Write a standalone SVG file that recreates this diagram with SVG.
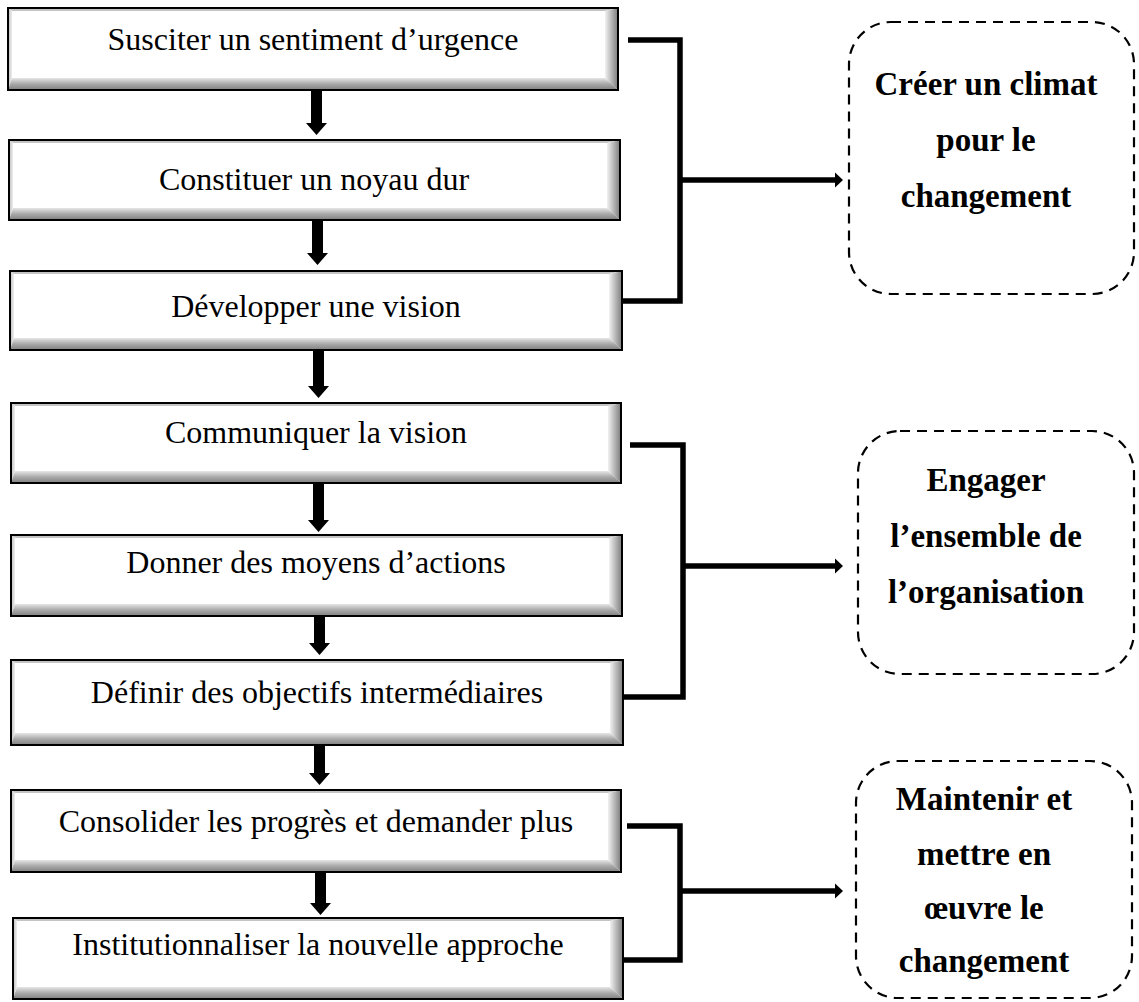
<svg xmlns="http://www.w3.org/2000/svg" width="1139" height="1002" viewBox="0 0 1139 1002">
  <defs>
    <linearGradient id="gR" x1="0" y1="0" x2="1" y2="0">
      <stop offset="0" stop-color="#f2f2f2"/>
      <stop offset="0.45" stop-color="#bdbdbd"/>
      <stop offset="1" stop-color="#7c7c7c"/>
    </linearGradient>
    <linearGradient id="gB" x1="0" y1="0" x2="0" y2="1">
      <stop offset="0" stop-color="#e6e6e6"/>
      <stop offset="0.5" stop-color="#a9a9a9"/>
      <stop offset="1" stop-color="#808080"/>
    </linearGradient>
    <linearGradient id="gL" x1="0" y1="0" x2="1" y2="0">
      <stop offset="0" stop-color="#bdbdbd"/>
      <stop offset="1" stop-color="#eeeeee"/>
    </linearGradient>
    <style>
      .face { fill: #ffffff; }
      .edge { fill: none; stroke: #000; stroke-width: 2; }
      .bt { fill: #c4c4c4; }
      .bl { fill: url(#gL); }
      .br { fill: url(#gR); }
      .bb { fill: url(#gB); }
      .lbl { font-family: "Liberation Serif", "Times New Roman", serif; font-size: 32px; text-anchor: middle; fill: #000; }
      .goal rect { fill: none; stroke: #000; stroke-width: 2.2; stroke-dasharray: 10 7; }
      .goal text { font-family: "Liberation Serif", "Times New Roman", serif; font-size: 33px; font-weight: bold; text-anchor: middle; fill: #000; }
      .link { fill: none; stroke: #000; stroke-width: 5.5; stroke-linejoin: miter; stroke-linecap: butt; }
      .head { fill: #000; }
    </style>
  </defs>

  <rect width="1139" height="1002" fill="#ffffff"/>

  <!-- steps: bevelled boxes -->
  <g id="step1">
    <rect class="face" x="8" y="8" width="610" height="82"/>
    <polygon class="bt" points="8,8 618,8 605,11 12,11"/>
    <polygon class="bl" points="8,8 12,11 12,78 8,90"/>
    <polygon class="br" points="618,8 618,90 605,78 605,11"/>
    <polygon class="bb" points="8,90 618,90 605,78 12,78"/>
    <rect class="edge" x="8" y="8" width="610" height="82"/>
    <text class="lbl" x="313" y="50">Susciter un sentiment d’urgence</text>
  </g>

  <g id="step2">
    <rect class="face" x="9" y="140" width="611" height="80"/>
    <polygon class="bt" points="9,140 620,140 607,143 13,143"/>
    <polygon class="bl" points="9,140 13,143 13,208 9,220"/>
    <polygon class="br" points="620,140 620,220 607,208 607,143"/>
    <polygon class="bb" points="9,220 620,220 607,208 13,208"/>
    <rect class="edge" x="9" y="140" width="611" height="80"/>
    <text class="lbl" x="314" y="190">Constituer un noyau dur</text>
  </g>

  <g id="step3">
    <rect class="face" x="10" y="271" width="612" height="79"/>
    <polygon class="bt" points="10,271 622,271 609,274 14,274"/>
    <polygon class="bl" points="10,271 14,274 14,338 10,350"/>
    <polygon class="br" points="622,271 622,350 609,338 609,274"/>
    <polygon class="bb" points="10,350 622,350 609,338 14,338"/>
    <rect class="edge" x="10" y="271" width="612" height="79"/>
    <text class="lbl" x="316" y="317">Développer une vision</text>
  </g>

  <g id="step4">
    <rect class="face" x="11" y="403" width="610" height="80"/>
    <polygon class="bt" points="11,403 621,403 608,406 15,406"/>
    <polygon class="bl" points="11,403 15,406 15,471 11,483"/>
    <polygon class="br" points="621,403 621,483 608,471 608,406"/>
    <polygon class="bb" points="11,483 621,483 608,471 15,471"/>
    <rect class="edge" x="11" y="403" width="610" height="80"/>
    <text class="lbl" x="316" y="443">Communiquer la vision</text>
  </g>

  <g id="step5">
    <rect class="face" x="11" y="535" width="611" height="81"/>
    <polygon class="bt" points="11,535 622,535 609,538 15,538"/>
    <polygon class="bl" points="11,535 15,538 15,604 11,616"/>
    <polygon class="br" points="622,535 622,616 609,604 609,538"/>
    <polygon class="bb" points="11,616 622,616 609,604 15,604"/>
    <rect class="edge" x="11" y="535" width="611" height="81"/>
    <text class="lbl" x="316" y="573">Donner des moyens d’actions</text>
  </g>

  <g id="step6">
    <rect class="face" x="11" y="660" width="612" height="85"/>
    <polygon class="bt" points="11,660 623,660 610,663 15,663"/>
    <polygon class="bl" points="11,660 15,663 15,733 11,745"/>
    <polygon class="br" points="623,660 623,745 610,733 610,663"/>
    <polygon class="bb" points="11,745 623,745 610,733 15,733"/>
    <rect class="edge" x="11" y="660" width="612" height="85"/>
    <text class="lbl" x="317" y="703">Définir des objectifs intermédiaires</text>
  </g>

  <g id="step7">
    <rect class="face" x="11" y="790" width="610" height="82"/>
    <polygon class="bt" points="11,790 621,790 608,793 15,793"/>
    <polygon class="bl" points="11,790 15,793 15,860 11,872"/>
    <polygon class="br" points="621,790 621,872 608,860 608,793"/>
    <polygon class="bb" points="11,872 621,872 608,860 15,860"/>
    <rect class="edge" x="11" y="790" width="610" height="82"/>
    <text class="lbl" x="316" y="832">Consolider les progrès et demander plus</text>
  </g>

  <g id="step8">
    <rect class="face" x="13" y="918" width="610" height="81"/>
    <polygon class="bt" points="13,918 623,918 610,921 17,921"/>
    <polygon class="bl" points="13,918 17,921 17,987 13,999"/>
    <polygon class="br" points="623,918 623,999 610,987 610,921"/>
    <polygon class="bb" points="13,999 623,999 610,987 17,987"/>
    <rect class="edge" x="13" y="918" width="610" height="81"/>
    <text class="lbl" x="318" y="955">Institutionnaliser la nouvelle approche</text>
  </g>

  <!-- phase boxes -->
  <g id="phase1" class="goal">
    <rect x="849" y="22" width="285" height="272" rx="42"/>
    <text x="986" y="95">Créer un climat</text>
    <text x="986" y="151">pour le</text>
    <text x="986" y="207">changement</text>
  </g>

  <g id="phase2" class="goal">
    <rect x="858" y="431" width="276" height="243" rx="42"/>
    <text x="986" y="491">Engager</text>
    <text x="986" y="547">l’ensemble de</text>
    <text x="986" y="603">l’organisation</text>
  </g>

  <g id="phase3" class="goal">
    <rect x="856" y="761" width="276" height="237" rx="42"/>
    <text x="984" y="810">Maintenir et</text>
    <text x="984" y="865">mettre en</text>
    <text x="984" y="919">œuvre le</text>
    <text x="984" y="972">changement</text>
  </g>

  <!-- connectors -->
  <g id="connectors">
    <!-- step-to-step arrows -->
    <path class="head" d="M311,90 H322 V123 H327 L316.5,135 L306,123 H311 Z"/>
    <path class="head" d="M312,220 H323 V253 H328 L317.5,265 L307,253 H312 Z"/>
    <path class="head" d="M313,350 H324 V386 H329 L318.5,398 L308,386 H313 Z"/>
    <path class="head" d="M313,483 H324 V520 H329 L318.5,532 L308,520 H313 Z"/>
    <path class="head" d="M314,616 H325 V643 H330 L319.5,655 L309,643 H314 Z"/>
    <path class="head" d="M314,745 H325 V773 H330 L319.5,785 L309,773 H314 Z"/>
    <path class="head" d="M315,872 H326 V903 H331 L320.5,915 L310,903 H315 Z"/>

    <!-- bracket 1 -->
    <polyline class="link" points="628,40 680,40 680,301 622,301"/>
    <line class="link" x1="680" y1="180" x2="836" y2="180"/>
    <polygon class="head" points="835,172.5 843,180 835,187.5"/>

    <!-- bracket 2 -->
    <polyline class="link" points="630,445 683,445 683,697 623,697"/>
    <line class="link" x1="683" y1="566" x2="836" y2="566"/>
    <polygon class="head" points="835,558.5 843,566 835,573.5"/>

    <!-- bracket 3 -->
    <polyline class="link" points="627,826 680,826 680,960 623,960"/>
    <line class="link" x1="680" y1="891" x2="836" y2="891"/>
    <polygon class="head" points="835,883.5 843,891 835,898.5"/>
  </g>
</svg>
